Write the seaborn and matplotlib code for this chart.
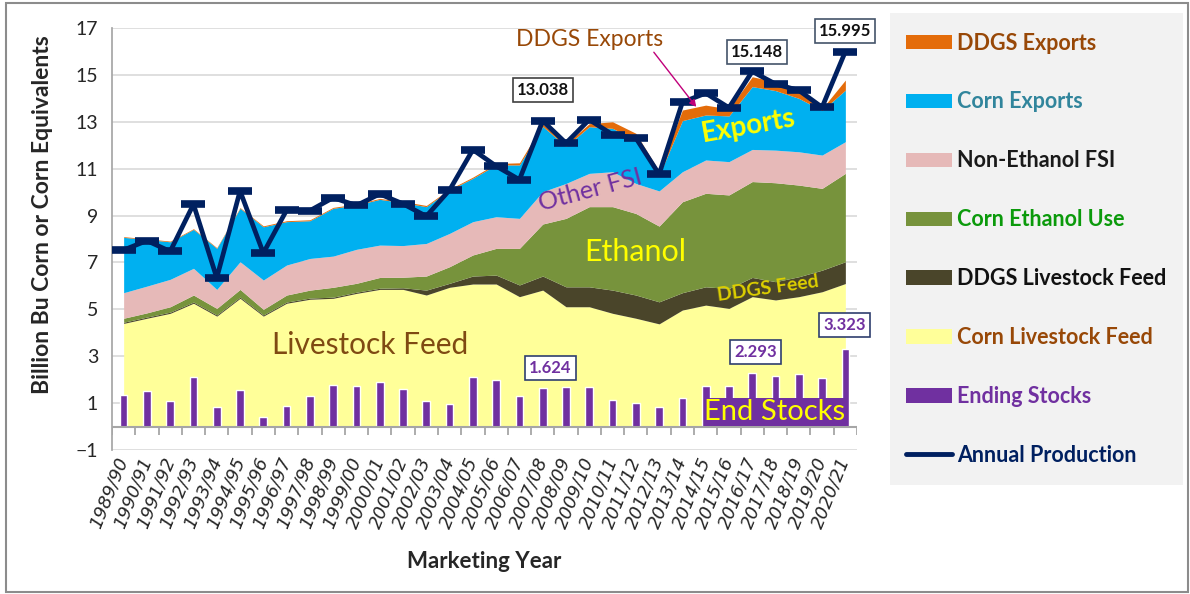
import numpy as np
import pandas as pd
import matplotlib
matplotlib.use("Agg")
import matplotlib.pyplot as plt
from matplotlib.patches import Patch, Rectangle
from matplotlib.lines import Line2D
import seaborn as sns

years = ["1989/90", "1990/91", "1991/92", "1992/93", "1993/94", "1994/95", "1995/96",
         "1996/97", "1997/98", "1998/99", "1999/00", "2000/01", "2001/02", "2002/03",
         "2003/04", "2004/05", "2005/06", "2006/07", "2007/08", "2008/09", "2009/10",
         "2010/11", "2011/12", "2012/13", "2013/14", "2014/15", "2015/16", "2016/17",
         "2017/18", "2018/19", "2019/20", "2020/21"]

# billion bu (corn equivalents)
corn_feed = [4.40, 4.62, 4.83, 5.26, 4.71, 5.47, 4.71, 5.26, 5.43, 5.47, 5.68, 5.85,
             5.85, 5.61, 5.94, 6.08, 6.08, 5.54, 5.82, 5.11, 5.11, 4.83, 4.62, 4.38,
             4.97, 5.18, 5.04, 5.54, 5.40, 5.54, 5.75, 6.10]
ddgs_feed = [0.05, 0.05, 0.05, 0.05, 0.05, 0.05, 0.05, 0.05, 0.05, 0.05, 0.05, 0.05,
             0.07, 0.21, 0.17, 0.34, 0.38, 0.50, 0.60, 0.85, 0.85, 0.99, 0.99, 0.94,
             0.74, 0.78, 0.85, 0.82, 0.78, 0.85, 0.92, 0.93]
ethanol = [0.17, 0.18, 0.23, 0.30, 0.28, 0.33, 0.24, 0.30, 0.34, 0.42, 0.38, 0.46,
           0.45, 0.60, 0.71, 0.90, 1.14, 1.56, 2.22, 2.92, 3.42, 3.56, 3.48, 3.23,
           3.88, 3.99, 3.99, 4.09, 4.22, 3.91, 3.49, 3.77]
other_fsi = [1.09, 1.14, 1.17, 1.14, 0.81, 1.18, 1.25, 1.28, 1.35, 1.33, 1.45, 1.38,
             1.35, 1.39, 1.42, 1.42, 1.35, 1.28, 1.38, 1.49, 1.42, 1.49, 1.28, 1.50,
             1.28, 1.42, 1.42, 1.37, 1.39, 1.42, 1.42, 1.35]
corn_exports = [2.36, 1.99, 1.60, 1.66, 1.75, 2.28, 2.27, 1.85, 1.61, 2.04, 1.89, 1.95,
                1.83, 1.57, 1.85, 1.85, 2.21, 2.28, 2.78, 1.58, 1.99, 1.85, 1.85, 0.65,
                2.18, 1.92, 1.95, 2.68, 2.54, 2.28, 1.90, 2.20]
ddgs_exports = [0.03, 0.03, 0.03, 0.03, 0.03, 0.03, 0.04, 0.04, 0.04, 0.04, 0.04, 0.04,
                0.05, 0.05, 0.04, 0.05, 0.06, 0.09, 0.10, 0.10, 0.13, 0.28, 0.29, 0.20,
                0.45, 0.42, 0.30, 0.42, 0.38, 0.43, 0.08, 0.43]
ending_stocks = [1.344, 1.521, 1.100, 2.113, 0.850, 1.558, 0.426, 0.883, 1.308, 1.787,
                 1.718, 1.899, 1.596, 1.087, 0.958, 2.114, 1.967, 1.304, 1.624, 1.673,
                 1.708, 1.128, 0.989, 0.821, 1.232, 1.731, 1.737, 2.293, 2.140, 2.221,
                 2.070, 3.323]
production = [7.53, 7.93, 7.47, 9.48, 6.34, 10.05, 7.40, 9.23, 9.21, 9.76, 9.43, 9.92,
              9.50, 8.97, 10.09, 11.81, 11.11, 10.53, 13.04, 12.09, 13.09, 12.45, 12.31,
              10.76, 13.83, 14.22, 13.60, 15.148, 14.61, 14.34, 13.62, 15.995]

layer_names = ["Corn Livestock Feed", "DDGS Livestock Feed", "Corn Ethanol Use",
               "Non-Ethanol FSI", "Corn Exports", "DDGS Exports"]
layer_colors = ["#FFFF99", "#4A452A", "#77933C", "#E6B9B8", "#00B0F0", "#E46C0A"]

df = pd.DataFrame({"year": years, "pos": np.arange(len(years)),
                   "stocks": ending_stocks, "production": production})

sns.set_theme(style="white")
plt.rcParams["font.family"] = ["Lato", "DejaVu Sans"]

fig = plt.figure(figsize=(11.9, 5.94), dpi=100)
ax = fig.add_axes([112 / 1190, 1 - 450 / 594, 745 / 1190, 422 / 594])

ax.stackplot(df["pos"], corn_feed, ddgs_feed, ethanol, other_fsi, corn_exports,
             ddgs_exports, colors=layer_colors, linewidth=0, zorder=1)

sns.barplot(data=df, x="pos", y="stocks", native_scale=True, width=0.33,
            color="#7030A0", saturation=1, errorbar=None, ax=ax, zorder=2)

sns.lineplot(data=df, x="pos", y="production", color="#002060", lw=3.4,
             marker="_", markersize=17, markeredgewidth=5.5, markeredgecolor="#002060",
             ax=ax, zorder=3)

ax.set_xlim(-0.5, len(years) - 0.5)
ax.set_ylim(-1, 17)
ax.set_yticks(range(-1, 18, 2))
ax.grid(axis="y", color="#D9D9D9", lw=1.2)
ax.set_axisbelow(True)
for s in ["top", "right", "bottom"]:
    ax.spines[s].set_visible(False)
ax.spines["left"].set_color("#A6A6A6")
ax.tick_params(axis="y", length=6, color="#A6A6A6", labelsize=14, labelcolor="#262626", pad=4)

# category axis sits at zero
ax.axhline(0, color="#A6A6A6", lw=1.5, zorder=2.5)
ax.vlines(np.arange(-0.5, len(years), 1), -0.38, 0, color="#A6A6A6", lw=1.3, zorder=2.5)
ax.set_xticks(df["pos"])
ax.set_xticklabels(years, rotation=68, ha="right", va="center", rotation_mode="anchor",
                   fontsize=13, color="#262626", family=["DejaVu Sans"], style="italic")
ax.tick_params(axis="x", length=0, pad=6)

ax.set_xlabel("Marketing Year", fontsize=16, fontweight="bold", labelpad=14)
ax.set_ylabel("Billion Bu Corn or Corn Equivalents", fontsize=16.5, fontweight="bold")
ax.yaxis.set_label_coords(-0.079, 0.557)

# in-chart labels
ax.text(20.03, 16.49, "DDGS Exports", color="#984807", fontsize=16.5, ha="center", va="center")
ax.annotate("", xy=(24.67, 13.54), xytext=(22.7, 16.06),
            arrowprops=dict(arrowstyle="-|>", color="#C0007A", lw=1, mutation_scale=10))
ax.text(26.82, 12.82, "Exports", color="#FFFF00", fontsize=20, fontweight="bold",
        rotation=10, ha="center", va="center", zorder=4)
ax.text(20.03, 10.09, "Other FSI", color="#7030A0", fontsize=18, rotation=15,
        ha="center", va="center", zorder=4)
ax.text(21.97, 7.44, "Ethanol", color="#FFFF00", fontsize=22, ha="center", va="center", zorder=4)
ax.text(27.68, 5.91, "DDGS Feed", color="#DDD000", fontsize=14, fontweight="bold", rotation=8,
        ha="center", va="center", zorder=4)
ax.text(10.59, 3.48, "Livestock Feed", color="#7F4A12", fontsize=21.5, ha="center",
        va="center", zorder=4)
ax.text(27.98, 0.62, "End Stocks", color="#FFFF00", fontsize=21, ha="center", va="center",
        zorder=4, bbox=dict(boxstyle="square,pad=0.03", fc="#7030A0", ec="none"))

for x, y, s, ec in [(18.02, 14.36, "13.038", "#404040"), (27.2, 15.98, "15.148", "#44546A"),
                    (30.99, 16.87, "15.995", "#44546A")]:
    ax.text(x, y, s, fontsize=12, fontweight="bold", color="#111111", ha="center", va="center",
            zorder=5, clip_on=False,
            bbox=dict(boxstyle="square,pad=0.25", fc="white", ec=ec, lw=1.2))
for x, y, s in [(18.32, 2.49, "1.624"), (27.16, 3.18, "2.293"), (30.95, 4.33, "3.323")]:
    ax.text(x, y, s, fontsize=12, fontweight="bold", color="#7030A0", ha="center", va="center",
            zorder=5, bbox=dict(boxstyle="square,pad=0.25", fc="white", ec="#2F3E6E", lw=1.2))

# legend panel
fig.add_artist(Rectangle((890 / 1190, 1 - 485 / 594), 293 / 1190, 472 / 594,
                         transform=fig.transFigure, fc="#F2F2F2", ec="none", zorder=0))
handles = [Patch(fc=c, ec="none") for c in layer_colors[::-1]]
handles.append(Patch(fc="#7030A0", ec="none"))
handles.append(Line2D([], [], color="#002060", lw=3.5))
labels = layer_names[::-1] + ["Ending Stocks", "Annual Production"]
text_colors = ["#984807", "#31859C", "#1A1A1A", "#0B9A0B", "#111111", "#984807",
               "#7030A0", "#002060"]
leg = fig.legend(handles, labels, loc="upper left", bbox_to_anchor=(897 / 1190, 1 - 24 / 594),
                 frameon=False, prop=dict(size=15.5, weight="bold"), handlelength=2.15,
                 handleheight=0.65, labelspacing=1.76, handletextpad=0.25, borderaxespad=0)
for t, c in zip(leg.get_texts(), text_colors):
    t.set_color(c)

fig.add_artist(Rectangle((6 / 1190, 2 / 594), 1182 / 1190, 589 / 594, transform=fig.transFigure,
                         fc="none", ec="#8C8C8C", lw=1.5))

fig.savefig("out.png", dpi=100)
plt.close(fig)
